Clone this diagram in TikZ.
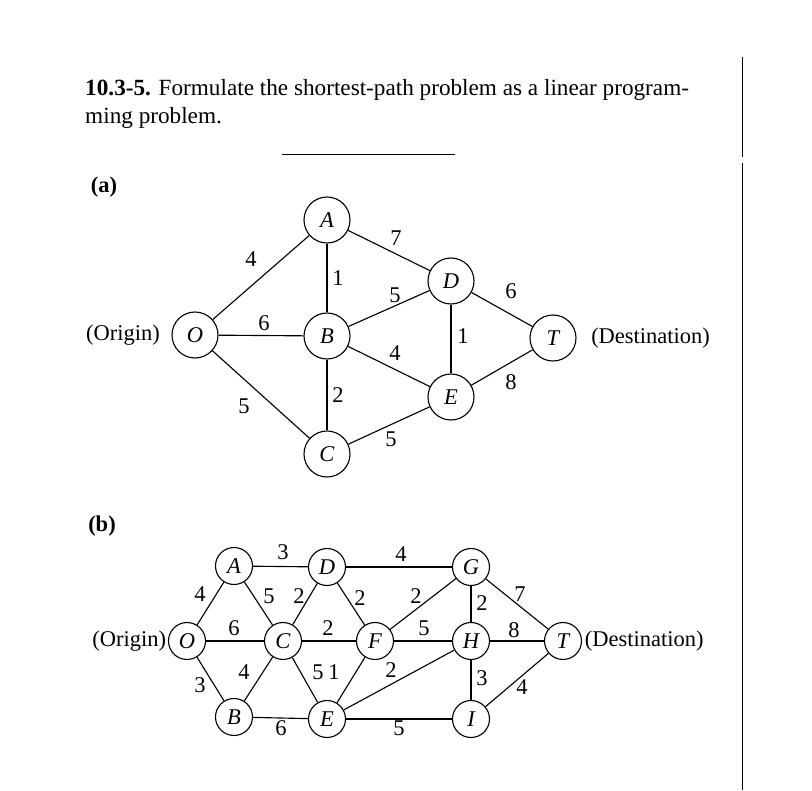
\documentclass[tikz,border=0pt]{standalone}
\usepackage{fontspec}
\setmainfont{Liberation Serif}
\begin{document}
\begin{tikzpicture}[x=0.025cm,y=-0.025cm,
        big/.style={font=\fontsize{16}{20}\selectfont},
        vertex/.style={draw, circle, thick, minimum size=46*0.025cm, inner sep=0pt, font=\fontsize{16}{18}\selectfont\itshape},
        smallvertex/.style={draw, circle, thick, minimum size=37*0.025cm, inner sep=0pt, font=\fontsize{16}{18}\selectfont\itshape},
        weight/.style={font=\fontsize{16}{18}\selectfont, inner sep=0pt},
        every path/.style={thick},
        ]
        \useasboundingbox (0,0) rectangle (812,791);
        % heading
        \node [anchor=west, align=left, font=\fontsize{16.5}{20}\selectfont] (title) at (80,104)
          {\textbf{10.3-5.} Formulate the shortest-path problem as a linear program-\\ming problem.};
        \draw [thin] (742,57) -- (742,157);
        \draw [thin] (742,163) -- (742,790);
        \draw [thin] (282,154) -- (455,154);
        % part (a)
        \node [font=\fontsize{16}{18}\selectfont\bfseries] (parta) at (104,187) {(a)};
        \node [vertex] (A) at (327,220) {A};
        \node [vertex] (D) at (451,281) {D};
        \node [vertex] (O) at (195,335) {O};
        \node [vertex] (B) at (327,336) {B};
        \node [vertex] (T) at (553,338) {T};
        \node [vertex] (E) at (451,397) {E};
        \node [vertex] (C) at (327,454) {C};
        \node [anchor=east, big] (origa) at (165,335) {(Origin)};
        \node [anchor=west, big] (desta) at (586,338) {(Destination)};
        \draw (O) -- (A);  \draw (A) -- (D);  \draw (A) -- (B);
        \draw (B) -- (D);  \draw (O) -- (B);  \draw (B) -- (E);
        \draw (D) -- (E);  \draw (D) -- (T);  \draw (E) -- (T);
        \draw (O) -- (C);  \draw (B) -- (C);  \draw (C) -- (E);
        \node [weight] at (251,259) {4};
        \node [weight] at (396,238) {7};
        \node [weight] at (338,278) {1};
        \node [weight] at (395,295) {5};
        \node [weight] at (264,323) {6};
        \node [weight] at (395,353) {4};
        \node [weight] at (463,336) {1};
        \node [weight] at (511,291) {6};
        \node [weight] at (511,382) {8};
        \node [weight] at (244,406) {5};
        \node [weight] at (338,395) {2};
        \node [weight] at (391,439) {5};
        % part (b)
        \node [font=\fontsize{16}{18}\selectfont\bfseries] (partb) at (102,526) {(b)};
        \node [smallvertex] (bA) at (234,566) {A};
        \node [smallvertex] (bD) at (327,567) {D};
        \node [smallvertex] (bG) at (471,567) {G};
        \node [smallvertex] (bO) at (187,641) {O};
        \node [smallvertex] (bC) at (283,641) {C};
        \node [smallvertex] (bF) at (375,641) {F};
        \node [smallvertex] (bH) at (471,641) {H};
        \node [smallvertex] (bT) at (563,641) {T};
        \node [smallvertex] (bB) at (234,717) {B};
        \node [smallvertex] (bE) at (327,719) {E};
        \node [smallvertex] (bI) at (471,719) {I};
        \node [anchor=east, big, inner sep=1pt] (origb) at (168,641) {(Origin)};
        \node [anchor=west, big, inner sep=1pt] (destb) at (583,641) {(Destination)};
        \foreach \u/\v in {bO/bA, bA/bD, bD/bG, bA/bC, bD/bC, bD/bF, bF/bG, bG/bH, bG/bT,
                           bO/bC, bC/bF, bF/bH, bH/bT, bO/bB, bC/bB, bC/bE, bE/bF,
                           bE/bH, bH/bI, bI/bT, bB/bE, bE/bI}
          \draw (\u) -- (\v);
        \node [weight] at (283,552) {3};
        \node [weight] at (401,554) {4};
        \node [weight] at (200,594) {4};
        \node [weight] at (269,596) {5};
        \node [weight] at (299,596) {2};
        \node [weight] at (360,598) {2};
        \node [weight] at (416,596) {2};
        \node [weight] at (482,603) {2};
        \node [weight] at (520,594) {7};
        \node [weight] at (234,628) {6};
        \node [weight] at (328,628) {2};
        \node [weight] at (424,628) {5};
        \node [weight] at (514,630) {8};
        \node [weight] at (200,685) {3};
        \node [weight] at (244,672) {4};
        \node [weight] at (318,672) {5};
        \node [weight] at (334,672) {1};
        \node [weight] at (391,670) {2};
        \node [weight] at (482,678) {3};
        \node [weight] at (522,687) {4};
        \node [weight] at (281,728) {6};
        \node [weight] at (399,728) {5};
      \end{tikzpicture}
\end{document}
